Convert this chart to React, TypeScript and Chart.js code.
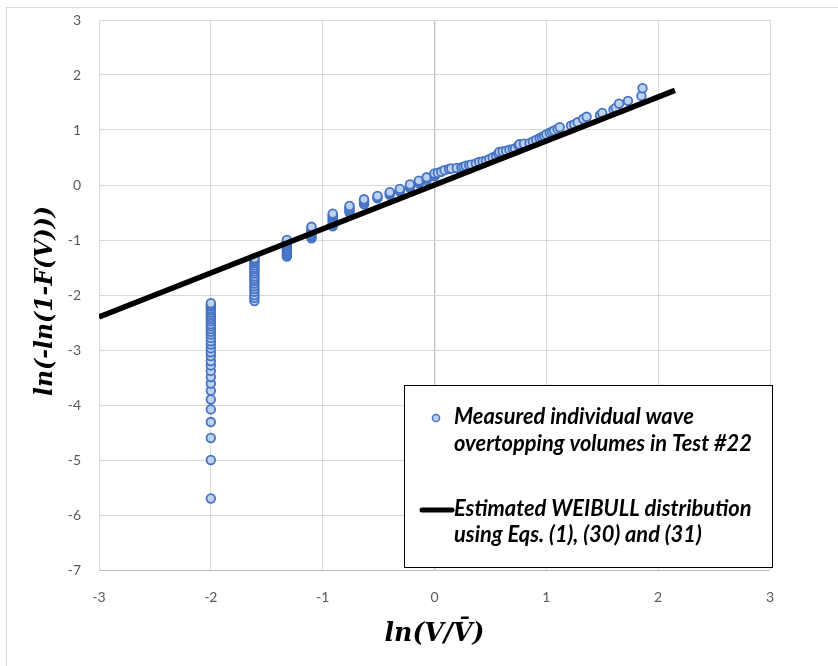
import { useEffect, useRef } from 'react';
import { Chart, registerables } from 'chart.js';

Chart.register(...registerables);

// ---- Data ----
// Columns of tied volumes: x position of each column and the y values stacked in it
const columnX = [-2.0, -1.61, -1.32, -1.10, -0.91, -0.76, -0.63, -0.51, -0.40, -0.31, -0.22, -0.14, -0.07, 0.0];
const col1Y = [-5.70, -5.00, -4.60, -4.31, -4.08, -3.90, -3.74, -3.61, -3.49, -3.38, -3.28, -3.20, -3.11, -3.04, -2.97, -2.90, -2.84, -2.78, -2.72, -2.67, -2.62, -2.57, -2.53, -2.48, -2.44, -2.40, -2.36, -2.32, -2.28, -2.25, -2.21, -2.18, -2.15];
const col2Y = [-2.11, -2.05, -2.00, -1.94, -1.89, -1.84, -1.79, -1.74, -1.70, -1.66, -1.61, -1.57, -1.53, -1.50, -1.46, -1.42, -1.39, -1.36, -1.33];
const col3Y = [-1.30, -1.27, -1.24, -1.21, -1.18, -1.15, -1.12, -1.09, -1.06, -1.03, -1.00];
const col4Y = [-0.97, -0.94, -0.91, -0.88, -0.85, -0.82, -0.79, -0.76];
const col5Y = [-0.75, -0.72, -0.69, -0.66, -0.63, -0.60, -0.57, -0.54, -0.52];
const col6Y = [-0.50, -0.47, -0.44, -0.41, -0.38];
const col7Y = [-0.35, -0.32, -0.29, -0.26];
const col8Y = [-0.24, -0.22, -0.20];
const col9Y = [-0.18, -0.15, -0.13];
const col10Y = [-0.12, -0.10, -0.07];
const col11Y = [-0.05, -0.02, 0.01];
const col12Y = [0.03, 0.06, 0.08];
const col13Y = [0.09, 0.12, 0.14];
const col14Y = [0.16, 0.19, 0.21];
const columnY = [col1Y, col2Y, col3Y, col4Y, col5Y, col6Y, col7Y, col8Y, col9Y, col10Y, col11Y, col12Y, col13Y, col14Y];

// Individual points above ln(V/V̄) = 0
const upperX = [0.03, 0.06, 0.09, 0.13, 0.15, 0.20, 0.24, 0.26, 0.28, 0.31, 0.33, 0.37, 0.40, 0.43, 0.46, 0.49, 0.52, 0.55, 0.57, 0.58, 0.61, 0.64, 0.67, 0.70, 0.72, 0.75, 0.76, 0.80, 0.85, 0.88, 0.91, 0.94, 0.96, 0.98, 1.00, 1.03, 1.05, 1.07, 1.10, 1.12, 1.22, 1.25, 1.28, 1.33, 1.36, 1.48, 1.50, 1.60, 1.62, 1.65, 1.73, 1.85, 1.86];
const upperY = [0.22, 0.24, 0.27, 0.29, 0.30, 0.31, 0.32, 0.33, 0.35, 0.36, 0.37, 0.39, 0.42, 0.43, 0.44, 0.47, 0.50, 0.53, 0.57, 0.60, 0.61, 0.62, 0.64, 0.65, 0.66, 0.72, 0.74, 0.75, 0.76, 0.79, 0.82, 0.85, 0.87, 0.89, 0.92, 0.95, 0.97, 0.99, 1.02, 1.05, 1.08, 1.10, 1.14, 1.20, 1.24, 1.27, 1.31, 1.37, 1.40, 1.48, 1.53, 1.62, 1.76];

// Estimated Weibull line
const fitX = [-3.0, 2.15];
const fitY = [-2.40, 1.72];

const xTicks = [-3, -2, -1, 0, 1, 2, 3];
const yTicks = [-7, -6, -5, -4, -3, -2, -1, 0, 1, 2, 3];

const legendLabels = [
  ['Measured individual wave', 'overtopping volumes in Test #22'],
  ['Estimated WEIBULL distribution', 'using Eqs. (1), (30) and (31)'],
];
const xTitle = 'ln(V/V\u0304)';
const yTitle = 'ln(-ln(1-F(V)))';

const PT_FILL = '#BCD2EE';
const PT_BORDER = '#4472C4';

function fitFont(ctx: CanvasRenderingContext2D, style: string, family: string, text: string, target: number, base: number) {
  ctx.font = `${style} ${base}px ${family}`;
  const w = ctx.measureText(text).width;
  const size = (base * target) / w;
  return `${style} ${size.toFixed(2)}px ${family}`;
}

const decor = {
  id: 'decor',
  beforeDraw(chart: any) {
    const ctx = chart.ctx as CanvasRenderingContext2D;
    ctx.save();
    ctx.fillStyle = '#ffffff';
    ctx.fillRect(0, 0, chart.width, chart.height);
    ctx.strokeStyle = '#D9D9D9';
    ctx.lineWidth = 1;
    ctx.strokeRect(6.5, 7.5, chart.width + 20, chart.height + 20);
    ctx.restore();
  },
  afterDraw(chart: any) {
    const ctx = chart.ctx as CanvasRenderingContext2D;
    const area = chart.chartArea;
    ctx.save();

    // Axis titles
    ctx.fillStyle = '#000000';
    ctx.textAlign = 'center';
    ctx.textBaseline = 'middle';
    ctx.font = fitFont(ctx, 'italic bold', '"DejaVu Serif"', xTitle, 100, 24);
    ctx.fillText(xTitle, (area.left + area.right) / 2, 634);

    ctx.save();
    ctx.translate(46, 301);
    ctx.rotate(-Math.PI / 2);
    ctx.font = fitFont(ctx, 'italic bold', '"DejaVu Serif"', yTitle, 190, 24);
    ctx.fillText(yTitle, 0, 0);
    ctx.restore();

    // Legend box
    const lx = 404, ly = 385, lw = 368, lh = 182;
    ctx.fillStyle = '#ffffff';
    ctx.fillRect(lx, ly, lw, lh);
    ctx.strokeStyle = '#000000';
    ctx.lineWidth = 1;
    ctx.strokeRect(lx + 0.5, ly + 0.5, lw, lh);

    // marker symbol
    ctx.beginPath();
    ctx.arc(436, 418, 3.6, 0, Math.PI * 2);
    ctx.fillStyle = PT_FILL;
    ctx.fill();
    ctx.strokeStyle = PT_BORDER;
    ctx.lineWidth = 1.5;
    ctx.stroke();

    // line symbol
    ctx.beginPath();
    ctx.moveTo(422, 510);
    ctx.lineTo(452, 510);
    ctx.strokeStyle = '#000000';
    ctx.lineWidth = 5;
    ctx.lineCap = 'round';
    ctx.stroke();

    ctx.fillStyle = '#000000';
    ctx.textAlign = 'left';
    ctx.textBaseline = 'middle';
    ctx.font = fitFont(ctx, 'italic bold', 'Lato', legendLabels[0][1], 298, 18);
    ctx.fillText(legendLabels[0][0], 454, 417);
    ctx.fillText(legendLabels[0][1], 454, 444);
    ctx.fillText(legendLabels[1][0], 454, 509);
    ctx.fillText(legendLabels[1][1], 454, 535);

    ctx.restore();
  },
};

export default function App() {
  const ref = useRef<HTMLCanvasElement>(null);

  useEffect(() => {
    const pts: { x: number; y: number }[] = [];
    columnX.forEach((x, i) => columnY[i].forEach((y) => pts.push({ x, y })));
    upperX.forEach((x, i) => pts.push({ x, y: upperY[i] }));
    const line = fitX.map((x, i) => ({ x, y: fitY[i] }));

    const tickFont = { family: 'Lato', size: 14 };
    const chart = new Chart(ref.current as HTMLCanvasElement, {
      type: 'scatter',
      data: {
        datasets: [
          {
            label: 'Estimated WEIBULL distribution using Eqs. (1), (30) and (31)',
            data: line,
            showLine: true,
            borderColor: '#000000',
            backgroundColor: '#000000',
            borderWidth: 5.5,
            pointRadius: 0,
            order: 0,
          } as any,
          {
            label: 'Measured individual wave overtopping volumes in Test #22',
            data: pts,
            backgroundColor: PT_FILL,
            borderColor: PT_BORDER,
            borderWidth: 1.8,
            pointRadius: 4.3,
            order: 1,
          },
        ],
      },
      options: {
        animation: false,
        responsive: false,
        maintainAspectRatio: false,
        layout: { padding: { left: 0, top: 20, right: 68, bottom: 0 } },
        plugins: { legend: { display: false }, tooltip: { enabled: false } },
        scales: {
          x: {
            type: 'linear',
            min: -3,
            max: 3,
            afterBuildTicks: (s: any) => { s.ticks = xTicks.map((v) => ({ value: v })); },
            afterFit: (s: any) => { s.height = 96; s.paddingLeft = 0; s.paddingRight = 0; },
            ticks: { padding: 19, color: '#595959', font: tickFont },
            grid: {
              color: (c: any) => (c.tick && c.tick.value === 0 ? '#BFBFBF' : '#D9D9D9'),
              lineWidth: (c: any) => (c.tick && c.tick.value === 0 ? 1.3 : 1),
              drawTicks: false,
            },
            border: { display: false },
          },
          y: {
            type: 'linear',
            min: -7,
            max: 3,
            afterBuildTicks: (s: any) => { s.ticks = yTicks.map((v) => ({ value: v })); },
            afterFit: (s: any) => { s.width = 99; s.paddingTop = 0; s.paddingBottom = 0; },
            ticks: { padding: 18, color: '#595959', font: tickFont },
            grid: {
              color: (c: any) => (c.tick && c.tick.value === -7 ? '#BFBFBF' : '#D9D9D9'),
              drawTicks: false,
            },
            border: { display: false },
          },
        },
      },
      plugins: [decor],
    });
    return () => chart.destroy();
  }, []);

  return (
    <div style={{ position: 'fixed', left: 0, top: 0, width: 838, height: 666, background: '#fff' }}>
      <canvas ref={ref} width={838} height={666} style={{ display: 'block' }} />
    </div>
  );
}
